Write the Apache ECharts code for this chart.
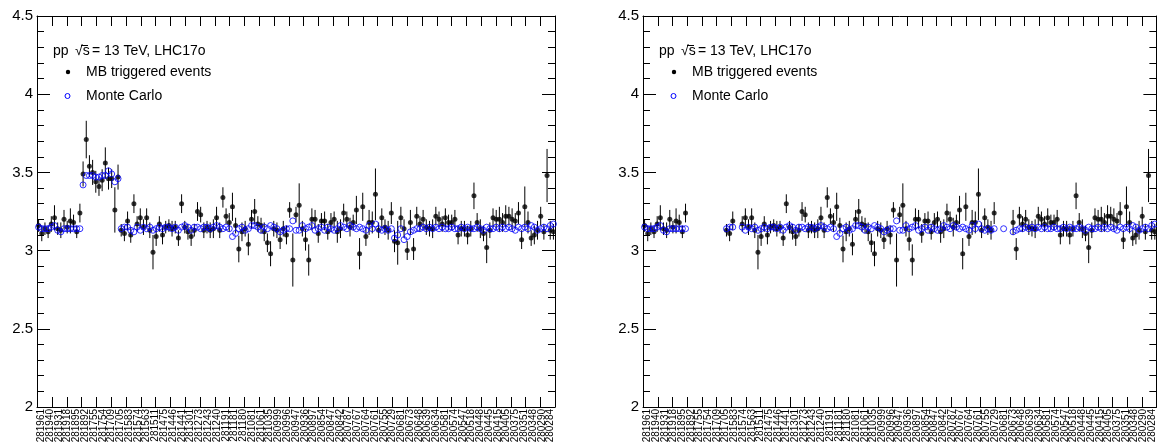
<!DOCTYPE html>
<html>
<head>
<meta charset="utf-8">
<script src="https://cdn.jsdelivr.net/npm/echarts@6/dist/echarts.min.js"></script>
<style>
  html, body { margin: 0; padding: 0; background: #fff; }
  #chart { width: 1157px; height: 447px; }
</style>
</head>
<body>
<div id="chart"></div>
<script>
// Run numbers printed along the x axis
const runLabels = [
  '281961','281940','281931','281918','281895','281892','281755','281754','281709','281705',
  '281583','281574','281563','281511','281475','281446','281441','281301','281273','281243',
  '281240','281191','281181','281180','281081','281061','281035','280999','280996','280947',
  '280936','280897','280854','280847','280842','280787','280767','280764','280761','280755',
  '280729','280681','280673','280648','280639','280634','280581','280574','280547','280518',
  '280448','280445','280415','280405','280375','280351','280348','280290','280284'
];

// Mean value per run, minimum-bias triggered data
const mbValues = [
  3.16,3.11,3.14,3.12,3.17,3.21,3.14,3.13,3.20,3.15,3.19,3.18,3.12,3.24,
  3.49,3.71,3.54,3.50,3.44,3.41,3.45,3.56,3.46,3.46,3.26,3.47,
  3.13,3.11,3.19,3.10,3.30,3.17,3.21,3.15,3.21,3.13,2.99,3.09,3.17,3.10,
  3.15,3.16,3.14,3.15,3.08,3.30,3.15,3.12,3.09,3.13,3.25,3.23,3.13,3.15,
  3.13,3.14,3.21,3.13,3.34,3.22,3.18,3.28,3.16,3.01,3.12,3.14,3.04,3.20,
  3.25,3.17,3.16,3.12,3.05,2.98,3.14,3.13,3.07,3.14,3.10,3.26,2.94,3.23,
  3.29,3.14,3.07,2.94,3.20,3.20,3.11,3.19,3.19,3.12,3.18,3.20,3.12,3.14,
  3.24,3.20,3.15,3.18,3.26,2.98,3.28,3.09,3.18,3.18,3.36,3.13,3.21,3.15,
  3.13,3.24,3.06,3.05,3.21,3.14,3.00,3.18,3.01,3.22,3.17,3.20,3.15,3.14,
  3.14,3.22,3.20,3.17,3.21,3.18,3.18,3.20,3.10,3.14,3.14,3.10,3.14,3.35,
  3.18,3.14,3.11,3.02,3.13,3.21,3.20,3.20,3.18,3.22,3.22,3.20,3.19,3.24,
  3.07,3.28,3.18,3.08,3.10,3.13,3.22,3.12,3.48,3.13,3.12
];

// Statistical uncertainty of each data point
const mbErrors = [
  0.04,0.05,0.04,0.04,0.05,0.08,0.04,0.05,0.06,0.04,0.08,0.05,0.04,0.06,
  0.08,0.12,0.07,0.08,0.07,0.06,0.07,0.10,0.07,0.06,0.145,0.08,
  0.04,0.05,0.06,0.05,0.06,0.05,0.06,0.05,0.06,0.05,0.11,0.06,0.05,0.06,
  0.04,0.04,0.05,0.04,0.05,0.06,0.04,0.05,0.06,0.04,0.06,0.05,0.05,0.04,
  0.05,0.06,0.07,0.05,0.065,0.05,0.06,0.09,0.05,0.085,0.06,0.05,0.07,0.06,
  0.08,0.05,0.05,0.06,0.06,0.08,0.05,0.05,0.06,0.05,0.06,0.05,0.17,0.05,
  0.14,0.05,0.07,0.10,0.07,0.06,0.06,0.05,0.06,0.05,0.06,0.05,0.07,0.06,
  0.06,0.05,0.06,0.05,0.09,0.10,0.09,0.06,0.08,0.07,0.165,0.05,0.06,0.05,
  0.06,0.07,0.07,0.14,0.07,0.06,0.06,0.08,0.07,0.06,0.05,0.06,0.05,0.05,
  0.06,0.06,0.05,0.05,0.06,0.05,0.05,0.06,0.06,0.05,0.05,0.06,0.05,0.085,
  0.06,0.06,0.05,0.10,0.05,0.06,0.06,0.08,0.06,0.07,0.06,0.07,0.05,0.07,
  0.06,0.13,0.07,0.05,0.06,0.06,0.06,0.05,0.17,0.06,0.05
];

// Mean value per run, Monte Carlo
const mcValues = [
  3.15,3.14,3.14,3.14,3.15,3.16,3.13,3.12,3.14,3.14,3.14,3.14,3.14,3.14,
  3.42,3.48,3.48,3.48,3.47,3.47,3.48,3.48,3.51,3.49,3.44,3.46,
  3.14,3.15,3.15,3.13,3.12,3.15,3.13,3.15,3.14,3.15,3.13,3.14,3.15,3.14,
  3.15,3.15,3.14,3.15,3.13,3.15,3.16,3.15,3.13,3.15,3.15,3.14,3.15,3.15,
  3.14,3.15,3.16,3.15,3.14,3.15,3.14,3.09,3.11,3.14,3.15,3.13,3.14,3.16,
  3.16,3.15,3.13,3.15,3.14,3.16,3.15,3.14,3.12,3.13,3.14,3.14,3.19,3.13,
  3.13,3.16,3.14,3.15,3.16,3.13,3.14,3.15,3.13,3.15,3.14,3.13,3.14,3.16,
  3.15,3.14,3.16,3.15,3.14,3.15,3.14,3.13,3.16,3.14,3.17,3.14,3.13,3.14,
  3.13,3.14,3.08,3.10,3.14,3.07,3.09,3.12,3.13,3.14,3.14,3.15,3.14,3.15,
  3.14,3.15,3.14,3.15,3.14,3.14,3.15,3.14,3.14,3.15,3.14,3.15,3.14,3.14,
  3.15,3.14,3.13,3.15,3.14,3.14,3.15,3.14,3.15,3.14,3.15,3.14,3.13,3.15,
  3.14,3.15,3.14,3.16,3.15,3.13,3.14,3.15,3.14,3.16,3.17
];

// Runs left out of the second panel
const removedRunsMB = [14,15,16,17,18,19,20,21,22,23,24,25,29,30,112,113,114,115,116];
const removedRunsMC = [14,15,16,17,18,19,20,21,22,23,24,25,29,30,112,113,115,116];

const yTicks = { min: 2, max: 4.5, step: 0.5 };
const xDivisions = 35;   // tick marks along the top and bottom frame

const nBins = mbValues.length;
const FONT = "'Liberation Sans', Arial, Helvetica, sans-serif";
const panelLeft = [37, 643];
const panelTop = 16, panelW = 518, panelH = 391;
const xTickLen = 10;

// the frame axis runs from 0 to xDivisions, one unit per tick division;
// bin i is centred at binPos(i)
const binPos = i => (i + 0.5) * xDivisions / nBins;

// frame tick marks: one per division, anchored on the lower frame edge
const frameTicks = [];
for (let k = 0; k <= xDivisions; k++) frameTicks.push([k, yTicks.min]);

const grids = [], xAxes = [], yAxes = [], series = [], graphics = [];

panelLeft.forEach((left, g) => {
  grids.push({ left: left, top: panelTop, width: panelW, height: panelH });
  const xb = xAxes.length;
  ['bottom', 'top'].forEach(pos => {
    xAxes.push({
      type: 'value', gridIndex: g, position: pos, min: 0, max: xDivisions, interval: 1,
      axisLine: { show: true, lineStyle: { color: '#000', width: 1 } },
      axisTick: { show: false },
      axisLabel: { show: false }, splitLine: { show: false }
    });
  });
  // run-number labels
  xAxes.push({
    type: 'category', gridIndex: g, position: 'bottom', data: runLabels, boundaryGap: true,
    axisLine: { show: false },
    axisTick: { show: false },
    axisLabel: { rotate: 90, interval: 0, fontSize: 10, margin: 2, color: '#000', fontFamily: FONT },
    splitLine: { show: false }
  });
  const yb = yAxes.length;
  ['left', 'right'].forEach(pos => {
    yAxes.push({
      type: 'value', gridIndex: g, position: pos, min: yTicks.min, max: yTicks.max, interval: yTicks.step,
      axisLine: { show: true, onZero: false, lineStyle: { color: '#000', width: 1 } },
      axisTick: { show: true, inside: true, length: 13, lineStyle: { color: '#000' } },
      minorTick: { show: true, splitNumber: 5, length: 7, lineStyle: { color: '#000' } },
      axisLabel: { show: pos === 'left', fontSize: 15, margin: 4, color: '#000', fontFamily: FONT },
      splitLine: { show: false }
    });
  });

  // tick marks on the bottom and top frame, placed through the frame axis
  series.push({
    type: 'custom', xAxisIndex: xb, yAxisIndex: yb, data: frameTicks, z: 5, silent: true,
    encode: { x: 0, y: 1 }, clip: false,
    renderItem: (params, api) => {
      const lo = api.coord([api.value(0), yTicks.min]);
      const hi = api.coord([api.value(0), yTicks.max]);
      const x = Math.round(lo[0]) + 0.5;
      return { type: 'group', children: [
        { type: 'line', shape: { x1: x, y1: lo[1], x2: x, y2: lo[1] - xTickLen }, style: { stroke: '#000', lineWidth: 1 } },
        { type: 'line', shape: { x1: x, y1: hi[1], x2: x, y2: hi[1] + xTickLen }, style: { stroke: '#000', lineWidth: 1 } }
      ] };
    }
  });

  const dropMB = g === 1 ? new Set(removedRunsMB) : new Set();
  const dropMC = g === 1 ? new Set(removedRunsMC) : new Set();
  const mbPts = [], errPts = [], mcPts = [];
  for (let i = 0; i < nBins; i++) {
    if (!dropMB.has(i)) {
      mbPts.push([binPos(i), mbValues[i]]);
      errPts.push([binPos(i), mbValues[i] - mbErrors[i], mbValues[i] + mbErrors[i]]);
    }
    if (!dropMC.has(i)) mcPts.push([binPos(i), mcValues[i]]);
  }
  series.push({
    type: 'custom', xAxisIndex: xb, yAxisIndex: yb, data: errPts, z: 2,
    encode: { x: 0, y: [1, 2] }, clip: true, silent: true,
    renderItem: (params, api) => {
      const a = api.coord([api.value(0), api.value(1)]);
      const b = api.coord([api.value(0), api.value(2)]);
      return { type: 'line', shape: { x1: a[0], y1: a[1], x2: b[0], y2: b[1] },
               style: { stroke: '#000', lineWidth: 1 } };
    }
  });
  series.push({
    type: 'scatter', xAxisIndex: xb, yAxisIndex: yb, data: mbPts, z: 3,
    symbol: 'circle', symbolSize: 5, itemStyle: { color: '#000' }, silent: true
  });
  series.push({
    type: 'scatter', xAxisIndex: xb + 1, yAxisIndex: yb + 1, data: mcPts, z: 4,
    symbol: 'circle', symbolSize: 6,
    itemStyle: { color: 'rgba(0,0,0,0)', borderColor: '#0000ff', borderWidth: 1 }, silent: true
  });

  // legend block
  const dx = left - 37;
  const txt = (x, y, s) => ({ type: 'text', x: x + dx, y: y, z: 10,
    style: { text: s, fontSize: 14, fontFamily: FONT, fill: '#000', verticalAlign: 'middle' } });
  graphics.push(txt(53, 51, 'pp'));
  graphics.push(txt(75, 51, '\u221As'));
  graphics.push({ type: 'line', z: 10, shape: { x1: 81 + dx, y1: 45.5, x2: 88 + dx, y2: 45.5 },
    style: { stroke: '#000', lineWidth: 1 } });
  graphics.push(txt(92, 51, '= 13 TeV, LHC17o'));
  graphics.push({ type: 'circle', z: 10, shape: { cx: 68 + dx, cy: 72, r: 2.2 }, style: { fill: '#000' } });
  graphics.push(txt(86, 72, 'MB triggered events'));
  graphics.push({ type: 'circle', z: 10, shape: { cx: 67.5 + dx, cy: 96, r: 2.5 },
    style: { fill: 'none', stroke: '#0000ff', lineWidth: 1 } });
  graphics.push(txt(86, 96, 'Monte Carlo'));
});

const chart = echarts.init(document.getElementById('chart'), null, { renderer: 'canvas' });
chart.setOption({
  animation: false,
  backgroundColor: '#fff',
  grid: grids,
  xAxis: xAxes,
  yAxis: yAxes,
  series: series,
  graphic: graphics
});
</script>
</body>
</html>
